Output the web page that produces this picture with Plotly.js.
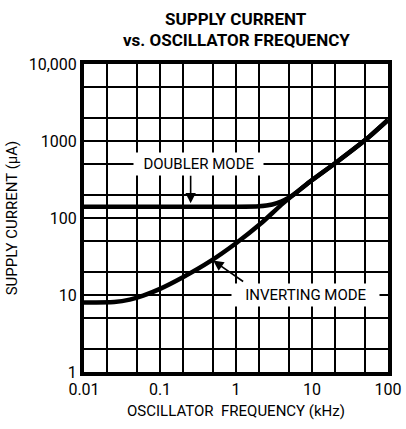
<!DOCTYPE html>
<html><head><meta charset="utf-8">
<script src="https://cdn.plot.ly/plotly-3.0.1.min.js"></script>
<style>html,body{margin:0;padding:0;background:#fff}#c{width:406px;height:429px}</style>
</head><body><div id="c"></div>
<script>
const invFreq = [0.01, 0.025, 0.04, 0.06, 0.1, 0.2, 0.46, 1, 2.1, 4.15, 8.5, 21, 52, 100];
const invCurrent = [8.0, 8.1, 8.7, 9.8, 12, 17, 27.5, 47, 84, 155, 275, 530, 1060, 1880];
const dblFreq = [0.01, 0.1, 1, 2, 3, 4, 5, 6, 8.5, 21, 52, 100];
const dblCurrent = [140, 140, 140, 142, 150, 165, 185, 207, 275, 530, 1060, 1880];
const xTickVals = [0.01, 0.1, 1, 10, 100];
const xTickText = ['0.01', '0.1', '1', '10', '100'];
const yTickVals = [1, 10, 100, 1000, 10000];
const yTickText = ['1', '10', '100', '1000', '10,000'];
const xMinor = [0.02, 0.05, 0.2, 0.5, 2, 5, 20, 50];
const yMinor = [2, 5, 20, 50, 200, 500, 2000, 5000];
const titleLines = ['SUPPLY CURRENT', 'vs. OSCILLATOR FREQUENCY'];

const F = 'Roboto, Liberation Sans, sans-serif';
const lineStyle = {color: '#000', width: 4.5, shape: 'spline', smoothing: 0.6};

const traces = [
  {x: invFreq, y: invCurrent, mode: 'lines', line: lineStyle, hoverinfo: 'skip'},
  {x: dblFreq, y: dblCurrent, mode: 'lines', line: lineStyle, hoverinfo: 'skip'}
];

const axisCommon = {
  type: 'log', showline: true, mirror: true, linecolor: '#000', linewidth: 4,
  showgrid: true, gridcolor: '#000', gridwidth: 1.6, zeroline: false,
  ticks: '', tickmode: 'array', tickfont: {family: F, size: 16, color: '#000'},
};

const layout = {
  width: 406, height: 429, showlegend: false,
  paper_bgcolor: '#fff', plot_bgcolor: '#fff',
  margin: {l: 84, r: 18, t: 64, b: 57},
  xaxis: Object.assign({}, axisCommon, {
    range: [-2, 2], tickvals: xTickVals, ticktext: xTickText,
    minor: {tickmode: 'array', tickvals: xMinor, showgrid: true, gridcolor: '#000', gridwidth: 1.6, ticks: ''},
    title: {text: 'OSCILLATOR  FREQUENCY (kHz)', font: {family: F, size: 15, color: '#000'}, standoff: 8}
  }),
  yaxis: Object.assign({}, axisCommon, {
    range: [0, 4], tickvals: yTickVals, ticktext: yTickText,
    minor: {tickmode: 'array', tickvals: yMinor, showgrid: true, gridcolor: '#000', gridwidth: 1.6, ticks: ''},
    title: {text: 'SUPPLY CURRENT (µA)', font: {family: F, size: 15, color: '#000'}, standoff: 8}
  }),
  annotations: [
    {xref: 'paper', yref: 'paper', x: 0.5, y: 1, yanchor: 'middle', yshift: 45, showarrow: false,
     text: '<b>' + titleLines[0] + '</b>', font: {family: F, size: 17, weight: 900, color: '#000'}},
    {xref: 'paper', yref: 'paper', x: 0.5, y: 1, yanchor: 'middle', yshift: 24, showarrow: false,
     text: '<b>' + titleLines[1] + '</b>', font: {family: F, size: 17, weight: 900, color: '#000'}},
    {x: Math.log10(0.32), y: Math.log10(500), xref: 'x', yref: 'y', text: '  DOUBLER MODE  ',
     showarrow: false, bgcolor: '#fff', font: {family: F, size: 15, color: '#000'}, borderpad: 2},
    {x: Math.log10(8.1), y: Math.log10(10), xref: 'x', yref: 'y', text: '   INVERTING MODE   ',
     showarrow: false, bgcolor: '#fff', font: {family: F, size: 15, color: '#000'}, borderpad: 2},
    {x: Math.log10(0.253), y: Math.log10(155), xref: 'x', yref: 'y', text: '',
     showarrow: true, arrowhead: 2, arrowsize: 1.3, arrowwidth: 1.6, arrowcolor: '#000',
     axref: 'x', ayref: 'y', ax: Math.log10(0.253), ay: Math.log10(370)},
    {x: Math.log10(0.5), y: Math.log10(28), xref: 'x', yref: 'y', text: '',
     showarrow: true, arrowhead: 2, arrowsize: 1.3, arrowwidth: 1.6, arrowcolor: '#000',
     axref: 'x', ayref: 'y', ax: Math.log10(1.3), ay: Math.log10(14.5)}
  ]
};

Plotly.newPlot('c', traces, layout, {staticPlot: true, displayModeBar: false});
</script>
</body></html>
